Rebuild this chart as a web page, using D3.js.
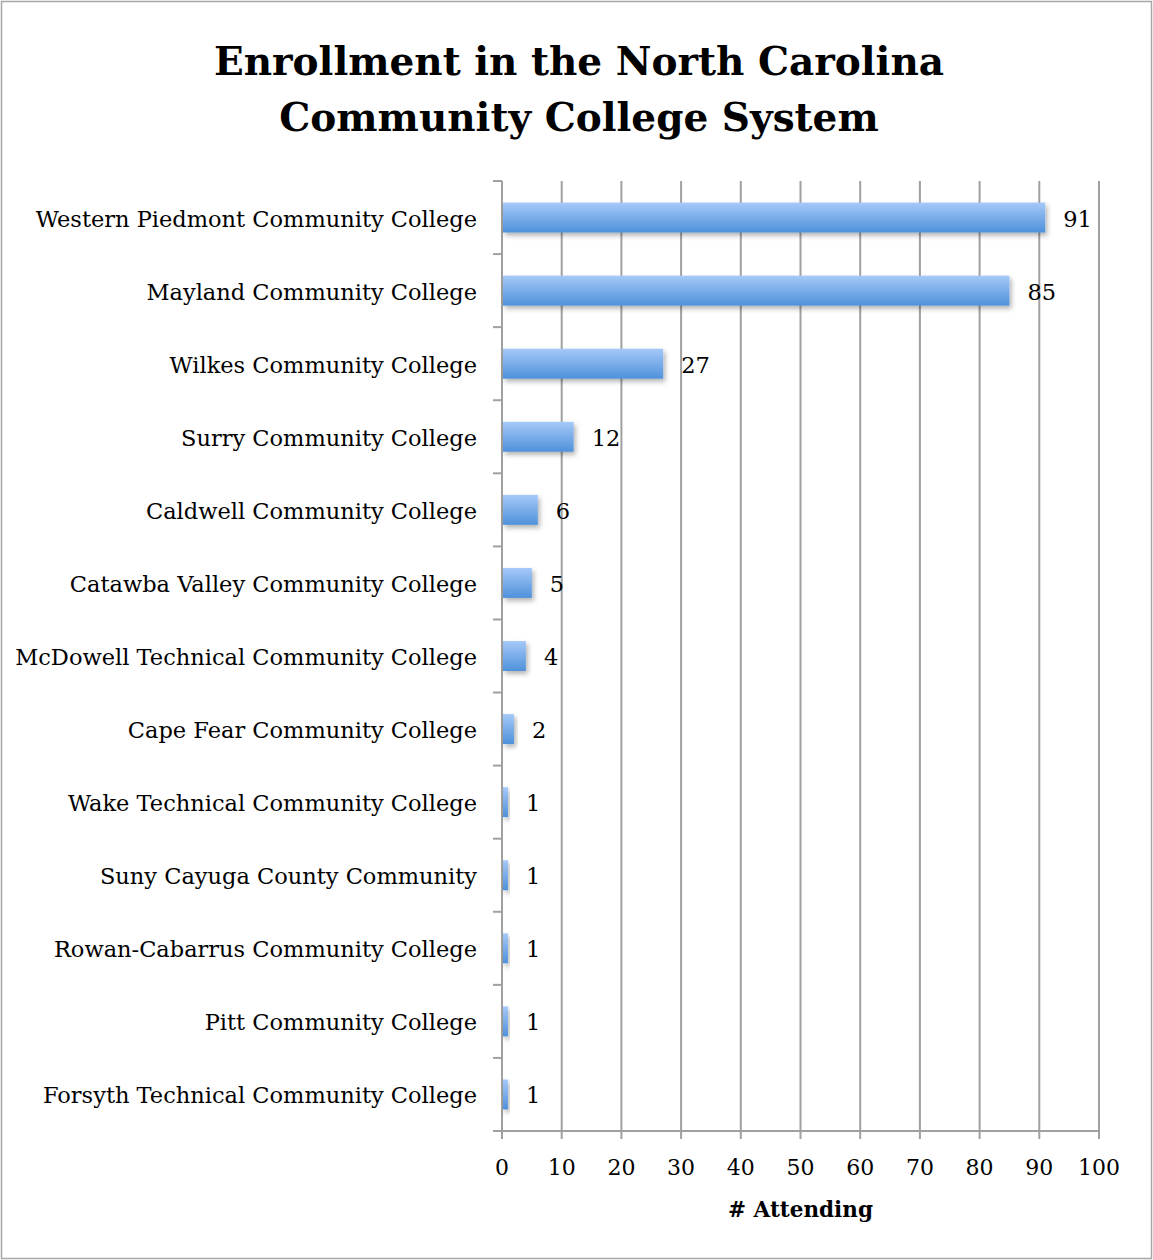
<!DOCTYPE html>
<html>
<head>
<meta charset="utf-8">
<script src="https://cdn.jsdelivr.net/npm/d3@7"></script>
<style>
  body { margin: 0; background: #fff; }
  svg { display: block; }
</style>
</head>
<body>
<div id="chart"><svg></svg></div>
<script>
// data
var colleges = [
  "Western Piedmont Community College",
  "Mayland Community College",
  "Wilkes Community College",
  "Surry Community College",
  "Caldwell Community College",
  "Catawba Valley Community College",
  "McDowell Technical Community College",
  "Cape Fear Community College",
  "Wake Technical Community College",
  "Suny Cayuga County Community",
  "Rowan-Cabarrus Community College",
  "Pitt Community College",
  "Forsyth Technical Community College"
];
var attending = [91, 85, 27, 12, 6, 5, 4, 2, 1, 1, 1, 1, 1];
var xTicks = [0, 10, 20, 30, 40, 50, 60, 70, 80, 90, 100];

var width = 1153, height = 1260,
    margin = { top: 181, right: 54, bottom: 129, left: 502 },
    font = "'DejaVu Serif', serif";

var plotW = width - margin.left - margin.right - 0,
    plotH = height - margin.top - margin.bottom;

var svg = d3.select('#chart svg')
    .attr('width', width)
    .attr('height', height);

var defs = svg.append('defs');
var grad = defs.append('linearGradient')
    .attr('id', 'barGrad')
    .attr('x1', 0).attr('y1', 0).attr('x2', 0).attr('y2', 1);
grad.append('stop').attr('offset', '0%').attr('stop-color', '#a6c9f9');
grad.append('stop').attr('offset', '100%').attr('stop-color', '#4e91da');

var shadow = defs.append('filter').attr('id', 'shadow')
    .attr('x', '-20%').attr('y', '-30%').attr('width', '150%').attr('height', '180%');
shadow.append('feDropShadow')
    .attr('dx', 2).attr('dy', 3).attr('stdDeviation', 2.5)
    .attr('flood-color', '#000').attr('flood-opacity', 0.3);

// outer frame
svg.append('rect')
    .attr('x', 1.5).attr('y', 1.5)
    .attr('width', width - 3).attr('height', height - 3)
    .attr('fill', 'none').attr('stroke', '#a6a6a6').attr('stroke-width', 1.5);

// title
var title = svg.append('text')
    .attr('text-anchor', 'middle')
    .attr('font-family', font)
    .attr('font-weight', 'bold')
    .attr('font-size', '39px')
    .attr('fill', '#000');
title.append('tspan').attr('x', 579).attr('y', 75).text('Enrollment in the North Carolina');
title.append('tspan').attr('x', 579).attr('y', 131).text('Community College System');

var x = d3.scaleLinear().domain([0, 100]).range([0, 597]);

var y = d3.scaleBand()
    .domain(colleges)
    .range([0, plotH])
    .paddingInner(0.59)
    .paddingOuter(0.295);

var g = svg.append('g')
    .attr('transform', 'translate(' + margin.left + ',' + margin.top + ')');

// vertical grid lines
g.selectAll('.grid')
    .data(xTicks)
    .enter().append('line')
    .attr('class', 'grid')
    .attr('x1', d => x(d)).attr('x2', d => x(d))
    .attr('y1', 0).attr('y2', plotH + 8)
    .attr('stroke', '#a0a0a0').attr('stroke-width', 2);

// x axis baseline
g.append('line')
    .attr('x1', -9).attr('x2', x(100))
    .attr('y1', plotH).attr('y2', plotH)
    .attr('stroke', '#a0a0a0').attr('stroke-width', 2);

// y axis ticks at band boundaries
var yBounds = d3.range(colleges.length + 1).map(i => i * plotH / colleges.length);
g.selectAll('.ytick')
    .data(yBounds)
    .enter().append('line')
    .attr('class', 'ytick')
    .attr('x1', -9).attr('x2', 0)
    .attr('y1', d => d).attr('y2', d => d)
    .attr('stroke', '#a0a0a0').attr('stroke-width', 2);

// x tick labels
g.selectAll('.xlabel')
    .data(xTicks)
    .enter().append('text')
    .attr('class', 'xlabel')
    .attr('x', d => x(d))
    .attr('y', plotH + 44)
    .attr('text-anchor', 'middle')
    .attr('font-family', font)
    .attr('font-size', '22px')
    .text(d => d);

// axis title
g.append('text')
    .attr('x', x(50))
    .attr('y', plotH + 86)
    .attr('text-anchor', 'middle')
    .attr('font-family', font)
    .attr('font-weight', 'bold')
    .attr('font-size', '21.5px')
    .text('# Attending');

// bars
g.selectAll('.bar')
    .data(colleges)
    .enter().append('rect')
    .attr('class', 'bar')
    .attr('x', 1)
    .attr('y', d => y(d))
    .attr('width', (d, i) => x(attending[i]) - 1)
    .attr('height', y.bandwidth())
    .attr('fill', 'url(#barGrad)')
    .attr('filter', 'url(#shadow)');

// value labels
g.selectAll('.value')
    .data(colleges)
    .enter().append('text')
    .attr('class', 'value')
    .attr('x', (d, i) => x(attending[i]) + 18)
    .attr('y', d => y(d) + y.bandwidth() / 2 + 9)
    .attr('font-family', font)
    .attr('font-size', '22.5px')
    .text((d, i) => attending[i]);

// category labels
g.selectAll('.cat')
    .data(colleges)
    .enter().append('text')
    .attr('class', 'cat')
    .attr('x', -25)
    .attr('y', d => y(d) + y.bandwidth() / 2 + 9)
    .attr('text-anchor', 'end')
    .attr('font-family', font)
    .attr('font-size', '22.5px')
    .text(d => d);
</script>
</body>
</html>
